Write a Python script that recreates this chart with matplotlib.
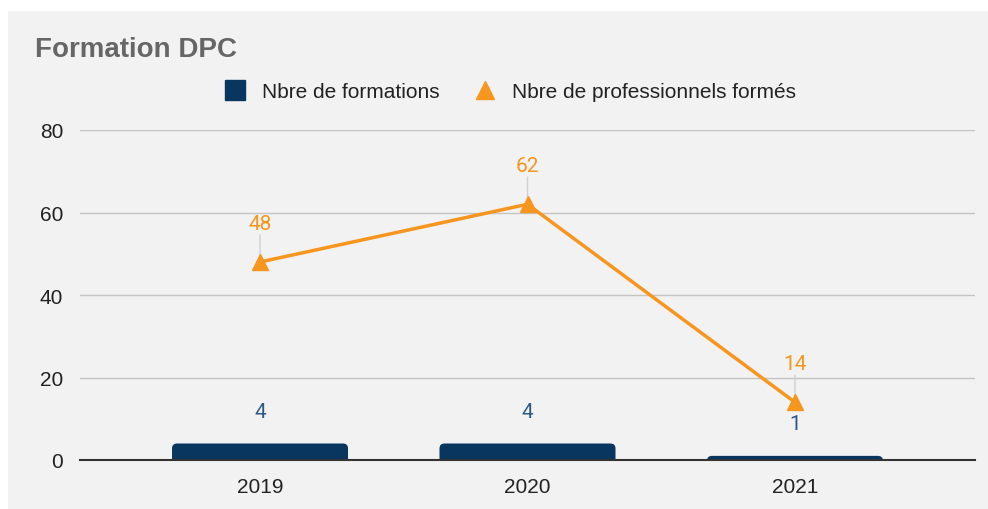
import numpy as np
import matplotlib.pyplot as plt
from matplotlib.patches import Rectangle, FancyBboxPatch
from matplotlib.lines import Line2D

# Données
annees = ["2019", "2020", "2021"]
nb_formations = [4, 4, 1]
nb_professionnels = [48, 62, 14]
graduations_y = [0, 20, 40, 60, 80]

bleu = "#08365f"
orange = "#f7961e"
texte_bleu = "#2d5988"

W, H = 988, 510
fig = plt.figure(figsize=(W / 100, H / 100), dpi=100, facecolor="white")

# panneau gris clair
fig.patches.append(Rectangle((8 / W, 0), 1, 1 - 12 / H, transform=fig.transFigure,
                             facecolor="#f2f2f2", edgecolor="none", zorder=-10))

# zone du graphique : x 80..975, y (80 -> 131, 0 -> 461)
ax = fig.add_axes([80 / W, 1 - 461 / H, (975 - 80) / W, (461 - 131) / H])
ax.set_facecolor("none")

x = np.arange(len(annees))
ax.set_xlim(-0.673, 2.673)
ax.set_ylim(0, 80)

# barres à coins arrondis (rayon ~5 px)
largeur = 0.658
px_x = 895 / 3.346
px_y = 330 / 80
r = 5 / px_x
for xi, v in zip(x, nb_formations):
    bb = FancyBboxPatch((xi - largeur / 2 + r, -5), largeur - 2 * r, v + 5 - r * px_x / px_y,
                        boxstyle=f"round,pad={r}", mutation_aspect=px_x / px_y,
                        facecolor=bleu, edgecolor="none", zorder=3)
    ax.add_patch(bb)
    ax.annotate(str(v), (xi, v), xytext=(0, 23), textcoords="offset points",
                ha="center", va="center", fontsize=15, color=texte_bleu,
                family="Roboto", zorder=5)

# ligne
ax.plot(x, nb_professionnels, color=orange, lw=2.5, marker="^", markersize=12,
        zorder=4, clip_on=False)
for xi, v in zip(x, nb_professionnels):
    ax.annotate(str(v), (xi, v), xytext=(0, 28), textcoords="offset points",
                ha="center", va="center", fontsize=15, color=orange,
                family="Roboto", zorder=5)
    ax.annotate("", (xi, v), xytext=(xi, v + 6.6),
                arrowprops=dict(arrowstyle="-", color="#d0d0d0", lw=1, shrinkA=0, shrinkB=0),
                zorder=2)

# axes et grille
ax.set_yticks(graduations_y)
ax.set_xticks(x)
ax.set_xticklabels(annees)
ax.yaxis.grid(True, color="#c4c4c4", lw=1)
ax.set_axisbelow(True)
for s in ["top", "right", "left"]:
    ax.spines[s].set_visible(False)
ax.spines["bottom"].set_color("#333333")
ax.spines["bottom"].set_linewidth(1.5)
ax.spines["bottom"].set_zorder(6)
ax.tick_params(axis="both", length=0, labelsize=15, labelcolor="#222222")
ax.tick_params(axis="x", pad=12)
ax.tick_params(axis="y", pad=12)
for lab in ax.get_xticklabels() + ax.get_yticklabels():
    lab.set_family("Liberation Sans")

# titre
fig.text(35 / W, 1 - 50 / H, "Formation DPC", fontsize=20, fontweight="bold",
         color="#666666", family="Liberation Sans", va="center", ha="left")

# légende
poignees = [
    Line2D([], [], ls="none", marker="s", markersize=14, color=bleu),
    Line2D([], [], ls="none", marker="^", markersize=13, color=orange),
]
fig.legend(poignees, ["Nbre de formations", "Nbre de professionnels formés"],
           loc="center", bbox_to_anchor=(505 / W, 1 - 93 / H), ncol=2, frameon=False,
           prop={"family": "Liberation Sans", "size": 15}, handletextpad=0.3,
           columnspacing=1.2, labelcolor="#222222")

fig.savefig("out.png", dpi=100, facecolor="white")
